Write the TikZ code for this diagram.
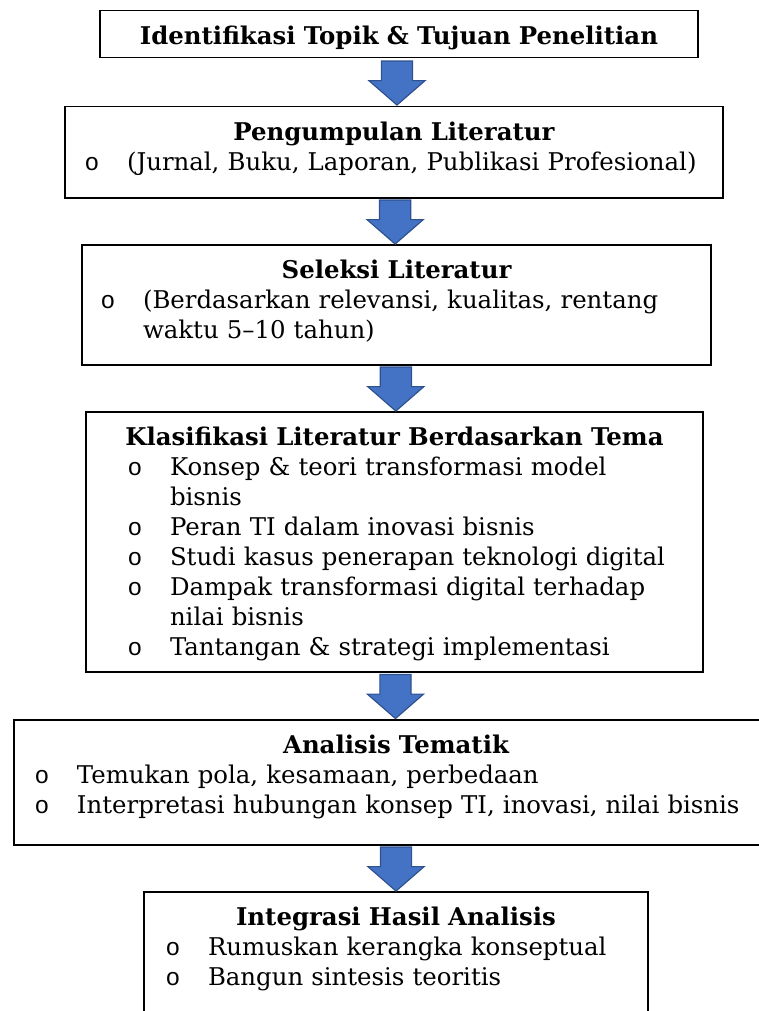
\documentclass[tikz,border=0pt]{standalone}
\usepackage{fontspec}
\setmainfont{DejaVu Serif}
\newfontfamily\bulletfont{Liberation Mono}
\usepackage{xcolor}
\usetikzlibrary{positioning,shapes.arrows}
\definecolor{arrowfill}{HTML}{4472C4}
\definecolor{arrowline}{HTML}{2F528F}
\newcommand{\judul}[1]{\makebox[\linewidth]{\bfseries #1}}
\newcommand{\butir}[2][31pt]{\hspace*{\dimexpr#1-17.5pt\relax}\makebox[0pt]{\bulletfont o}\hspace*{17.5pt}\mbox{#2}}
\newcommand{\lanjut}[2][31pt]{\hspace*{#1}\mbox{#2}}

\begin{document}
\begin{tikzpicture}[
    node distance=22.75pt,
    box/.style={rectangle, draw, line width=0.75pt, inner sep=0pt, text height=17pt, align=left, font=\fontsize{12.2pt}{15pt}\selectfont},
    blockarrow/.style={single arrow, shape border rotate=270, fill=arrowfill, draw=arrowline, line width=0.6pt, minimum height=22pt, minimum width=27.5pt, single arrow head extend=6.25pt, single arrow tip angle=98, inner xsep=7.5pt, inner ysep=0pt, yshift=3pt}
]
    \useasboundingbox (0,0) rectangle (379.5pt,-505.5pt);

    \node[box, text width=299pt, text depth=6.5pt, anchor=north] (identifikasi) at (199.5pt,-5pt) {\judul{Identifikasi Topik \& Tujuan Penelitian}};
    \node[box, text width=329pt, text depth=28.5pt, below=23.75pt of identifikasi, xshift=-2.5pt] (pengumpulan) {\judul{Pengumpulan Literatur}\\
        \butir{(Jurnal, Buku, Laporan, Publikasi Profesional)}};
    \node[box, text width=314.5pt, text depth=43pt, below=of pengumpulan, xshift=1.25pt] (seleksi) {\judul{Seleksi Literatur}\\
        \butir[30.5pt]{(Berdasarkan relevansi, kualitas, rentang}\\
        \lanjut[30.5pt]{waktu 5--10 tahun)}};
    \node[box, text width=308.5pt, text depth=113pt, below=of seleksi, xshift=-1pt] (klasifikasi) {\judul{Klasifikasi Literatur Berdasarkan Tema}\\
        \butir[42pt]{Konsep \& teori transformasi model}\\
        \lanjut[42pt]{bisnis}\\
        \butir[42pt]{Peran TI dalam inovasi bisnis}\\
        \butir[42pt]{Studi kasus penerapan teknologi digital}\\
        \butir[42pt]{Dampak transformasi digital terhadap}\\
        \lanjut[42pt]{nilai bisnis}\\
        \butir[42pt]{Tantangan \& strategi implementasi}};
    \node[box, text width=382pt, text depth=45.5pt, below=23.25pt of klasifikasi, xshift=0.75pt] (analisis) {\judul{Analisis Tematik}\\
        \butir[31.5pt]{Temukan pola, kesamaan, perbedaan}\\
        \butir[31.5pt]{Interpretasi hubungan konsep TI, inovasi, nilai bisnis}};
    \node[box, text width=252pt, text depth=55pt, below=of analisis] (integrasi) {\judul{Integrasi Hasil Analisis}\\
        \butir[32pt]{Rumuskan kerangka konseptual}\\
        \butir[32pt]{Bangun sintesis teoritis}};

    \path (identifikasi) -- (pengumpulan) node[midway, blockarrow] (panah1) {};
    \path (pengumpulan) -- (seleksi) node[midway, blockarrow] (panah2) {};
    \path (seleksi) -- (klasifikasi) node[midway, blockarrow] (panah3) {};
    \path (klasifikasi) -- (analisis) node[midway, blockarrow] (panah4) {};
    \path (analisis) -- (integrasi) node[midway, blockarrow] (panah5) {};
\end{tikzpicture}
\end{document}
